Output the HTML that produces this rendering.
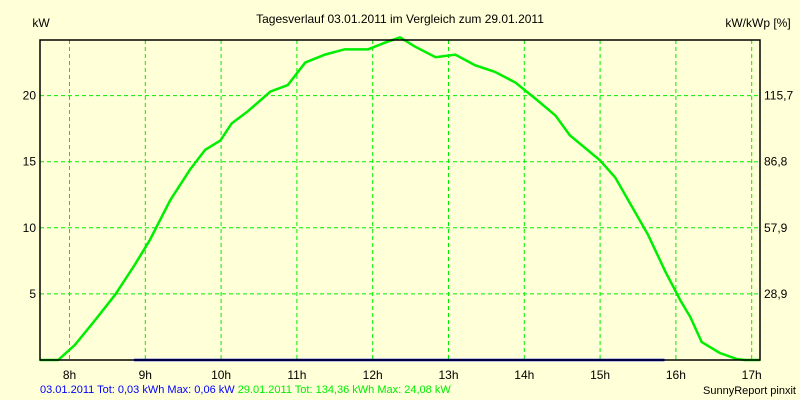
<!DOCTYPE html>
<html><head><meta charset="utf-8"><style>
body{margin:0;background:#ffffd8;}
svg{display:block;font-family:"Liberation Sans",sans-serif;font-size:12px;}
</style></head><body>
<svg id="c" width="800" height="400">
<rect width="800" height="400" fill="#ffffd8"/>
<text x="400" y="23" text-anchor="middle">Tagesverlauf 03.01.2011 im Vergleich zum 29.01.2011</text>
<text x="41" y="27" text-anchor="middle">kW</text>
<text x="758" y="27" text-anchor="middle">kW/kWp [%]</text>
<g id="grid"></g><g id="series"></g>
<rect x="40" y="40" width="720" height="320" fill="none" stroke="#000" stroke-width="1.5"/>
<g id="labels"></g>
<text x="40" y="393" fill="#0000ff" font-size="11">03.01.2011 Tot: 0,03 kWh Max: 0,06 kW <tspan fill="#00ee00">29.01.2011 Tot: 134,36 kWh Max: 24,08 kW</tspan></text>
<text x="796" y="394" text-anchor="end" font-size="11">SunnyReport pinxit</text>
</svg>
<script>
const hourTicks=[8,9,10,11,12,13,14,15,16,17];
const kwTicks=[5,10,15,20];
const pctTicks=["28,9","57,9","86,8","115,7"];
const greenTimes=[7.61,7.85,8.07,8.34,8.60,8.86,9.06,9.33,9.59,9.79,9.99,10.14,10.35,10.65,10.88,11.11,11.37,11.63,11.94,12.16,12.36,12.56,12.83,13.09,13.35,13.61,13.88,14.14,14.41,14.60,15.00,15.20,15.40,15.63,15.86,16.06,16.19,16.34,16.58,16.80,16.91,17.11];
const greenKw=[0,0,1.13,3.03,4.92,7.19,9.08,12.1,14.4,15.9,16.6,17.9,18.8,20.3,20.8,22.5,23.1,23.5,23.5,24.0,24.4,23.7,22.9,23.1,22.3,21.8,21.0,19.8,18.5,17.0,15.1,13.8,11.8,9.5,6.7,4.5,3.25,1.36,0.53,0.08,0,0];
const blueTimes=[8.85,15.85];
const blueKw=[0,0];
const NS="http://www.w3.org/2000/svg";
const X=h=>69.5+(h-8)*75.8;
const Y=v=>360-v*13.22;
function mk(tag,attrs,parent){const e=document.createElementNS(NS,tag);for(const k in attrs)e.setAttribute(k,attrs[k]);document.getElementById(parent).appendChild(e);return e;}
hourTicks.forEach(h=>{
 const l=mk('line',{x1:X(h),x2:X(h),y1:40,y2:360,stroke:'#00ee00','stroke-dasharray':'4,3'},'grid');
 
 
 const t=mk('text',{x:X(h),y:379,'text-anchor':'middle'},'labels');t.textContent=h+'h';
 
 
});
kwTicks.forEach((v,i)=>{
 const l=mk('line',{x1:40,x2:760,y1:Y(v),y2:Y(v),stroke:'#00ee00','stroke-dasharray':'4,3'},'grid');
 
 
 const t=mk('text',{x:36,y:Y(v)+4,'text-anchor':'end'},'labels');t.textContent=v;
 
 
 const t2=mk('text',{x:764,y:Y(v)+4},'labels');t2.textContent=pctTicks[i];
 
 
});
const gp=mk('polyline',{points:greenTimes.map((h,i)=>X(h)+','+Y(greenKw[i])).join(' '),fill:'none',stroke:'#00ee00','stroke-width':2.5},'series');


const bp=mk('polyline',{points:blueTimes.map((h,i)=>X(h)+','+Y(blueKw[i])).join(' '),fill:'none',stroke:'#0000ff','stroke-width':2.5},'series');


</script>
</body></html>
